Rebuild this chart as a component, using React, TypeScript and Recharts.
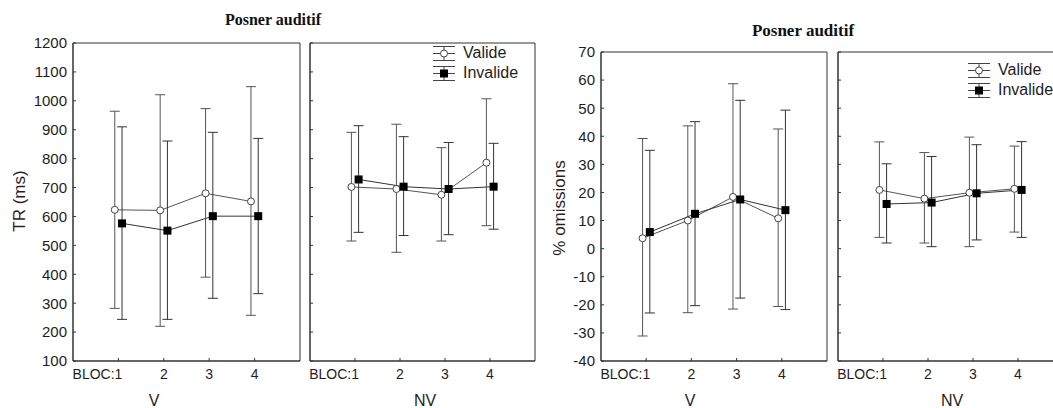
import React from 'react';
import { LineChart, Line, XAxis, YAxis, ErrorBar, Legend, Label, ReferenceArea } from 'recharts';

// ---------- categories / labels ----------
const blocs = [1, 2, 3, 4];
const blocLabels = ['BLOC:1', '2', '3', '4'];
const seriesNames = ['Valide', 'Invalide'];
const chartTitle = 'Posner auditif';
const trTicks = [100, 200, 300, 400, 500, 600, 700, 800, 900, 1000, 1100, 1200];
const omTicks = [-40, -30, -20, -10, 0, 10, 20, 30, 40, 50, 60, 70];

// ---------- TR (ms) ----------
const trValideV = [623, 621, 680, 652];
const trValideVLow = [282, 220, 390, 258];
const trValideVHigh = [964, 1021, 973, 1049];
const trInvalideV = [576, 551, 601, 601];
const trInvalideVLow = [244, 244, 317, 333];
const trInvalideVHigh = [910, 861, 891, 870];
const trValideNV = [702, 695, 675, 786];
const trValideNVLow = [515, 476, 515, 568];
const trValideNVHigh = [891, 919, 838, 1007];
const trInvalideNV = [728, 703, 695, 703];
const trInvalideNVLow = [545, 534, 537, 556];
const trInvalideNVHigh = [914, 876, 856, 853];

// ---------- % omissions ----------
const omValideV = [3.7, 10, 18.4, 10.8];
const omValideVLow = [-31.1, -22.8, -21.5, -20.6];
const omValideVHigh = [39.2, 43.7, 58.7, 42.6];
const omInvalideV = [5.9, 12.4, 17.5, 13.7];
const omInvalideVLow = [-22.9, -20.3, -17.6, -21.7];
const omInvalideVHigh = [35, 45.2, 52.8, 49.3];
const omValideNV = [20.9, 17.8, 19.9, 21.3];
const omValideNVLow = [4, 2, 0.7, 5.9];
const omValideNVHigh = [38, 34.2, 39.7, 36.5];
const omInvalideNV = [15.9, 16.4, 19.7, 20.9];
const omInvalideNVLow = [2, 0.7, 3.1, 4];
const omInvalideNVHigh = [30.2, 32.8, 37, 38.1];

const FONT = "'Liberation Sans', Arial, sans-serif";
const SERIF = "'Liberation Serif', 'Times New Roman', serif";
const AXIS = '#333';
const TEXT = '#1e1e1e';
const SHIFT = 0.08;

const build = (means: number[], lows: number[], highs: number[], shift: number) =>
  blocs.map((b, i) => ({
    x: b + shift,
    y: means[i],
    err: [means[i] - lows[i], highs[i] - means[i]],
  }));

const XTick = (props: any) => {
  const { x, y, payload } = props;
  const i = blocs.indexOf(payload.value);
  const first = i === 0;
  return (
    <text
      x={first ? x + 4 : x}
      y={y + 18}
      textAnchor={first ? 'end' : 'middle'}
      fontSize={14}
      fill={TEXT}
      fontFamily={FONT}
    >
      {blocLabels[i]}
    </text>
  );
};

const EmptyTick = () => <g />;

const OpenDot = (p: any) => (
  <circle key={`o${p.index}`} cx={p.cx} cy={p.cy} r={3.5} fill="#fff" stroke="#444" strokeWidth={1} />
);
const SquareDot = (p: any) => (
  <rect key={`s${p.index}`} x={p.cx - 4} y={p.cy - 4} width={8} height={8} fill="#000" />
);

const LegendContent = () => (
  <div style={{ fontFamily: FONT, fontSize: 16, color: TEXT }}>
    {seriesNames.map((name, i) => (
      <div key={name} style={{ display: 'flex', alignItems: 'center', height: 20 }}>
        <svg width={24} height={20} style={{ display: 'block' }}>
          <line x1={1} x2={23} y1={3.5} y2={3.5} stroke="#444" />
          <line x1={1} x2={23} y1={10.5} y2={10.5} stroke="#444" />
          <line x1={1} x2={23} y1={17.5} y2={17.5} stroke="#444" />
          <line x1={12} x2={12} y1={3.5} y2={17.5} stroke="#444" />
          {i === 0 ? (
            <circle cx={12} cy={10.5} r={3.5} fill="#fff" stroke="#444" />
          ) : (
            <rect x={8} y={6.5} width={8} height={8} fill="#000" />
          )}
        </svg>
        <span style={{ marginLeft: 7, lineHeight: '20px' }}>{name}</span>
      </div>
    ))}
  </div>
);

type PanelProps = {
  left: number;
  width: number;
  top: number;
  yAxisWidth: number;
  domain: [number, number];
  ticks: number[];
  showYLabels: boolean;
  valide: any[];
  invalide: any[];
  yTitle?: { text: string; x: number; y: number };
  xTitle: { text: string; x: number };
  legend?: { left: number; top: number };
};

const Panel = (p: PanelProps) => (
  <div style={{ position: 'absolute', left: p.left, top: 0 }}>
    <LineChart
      width={p.width}
      height={408}
      margin={{ top: p.top, right: 10, bottom: 0, left: 0 }}
      style={{ fontFamily: FONT }}
    >
      <XAxis
        dataKey="x"
        type="number"
        domain={[0, 5]}
        ticks={blocs}
        allowDataOverflow
        height={47}
        tickSize={-3}
        tickMargin={3}
        tick={<XTick />}
        axisLine={{ stroke: AXIS }}
        tickLine={{ stroke: AXIS }}
      >
        <Label
          content={() => (
            <text x={p.xTitle.x} y={406} textAnchor="middle" fontSize={16} fill={TEXT} fontFamily={FONT}>
              {p.xTitle.text}
            </text>
          )}
        />
      </XAxis>
      <YAxis
        type="number"
        domain={p.domain}
        ticks={p.ticks}
        allowDataOverflow
        width={p.yAxisWidth}
        tickSize={-3}
        tickMargin={9}
        tick={p.showYLabels ? { fontSize: 15, fill: TEXT, fontFamily: FONT } : <EmptyTick />}
        axisLine={{ stroke: AXIS }}
        tickLine={{ stroke: AXIS }}
        interval={0}
      >
        {p.yTitle ? (
          <Label
            content={() => (
              <text
                x={p.yTitle!.x}
                y={p.yTitle!.y}
                transform={`rotate(-90, ${p.yTitle!.x}, ${p.yTitle!.y})`}
                textAnchor="middle"
                fontSize={17}
                fill="#2a1f1f"
                fontFamily={FONT}
              >
                {p.yTitle!.text}
              </text>
            )}
          />
        ) : null}
      </YAxis>
      <ReferenceArea
        x1={0}
        x2={5}
        y1={p.domain[0]}
        y2={p.domain[1]}
        fill="none"
        fillOpacity={0}
        stroke={AXIS}
        strokeWidth={1}
        ifOverflow="visible"
      />
      {p.legend ? (
        <Legend
          layout="vertical"
          align="center"
          verticalAlign="middle"
          content={<LegendContent />}
          wrapperStyle={{ position: 'absolute', left: p.legend.left, top: p.legend.top, width: 'auto', height: 'auto' }}
        />
      ) : null}
      <Line
        name={seriesNames[0]}
        data={p.valide}
        dataKey="y"
        stroke="#555"
        strokeWidth={1}
        dot={OpenDot}
        activeDot={false}
        isAnimationActive={false}
      >
        <ErrorBar dataKey="err" direction="y" width={5} stroke="#555" strokeWidth={1} isAnimationActive={false} />
      </Line>
      <Line
        name={seriesNames[1]}
        data={p.invalide}
        dataKey="y"
        stroke="#333"
        strokeWidth={1}
        dot={SquareDot}
        activeDot={false}
        isAnimationActive={false}
      >
        <ErrorBar dataKey="err" direction="y" width={5} stroke="#333" strokeWidth={1} isAnimationActive={false} />
      </Line>
    </LineChart>
  </div>
);

export default function App() {
  return (
    <div
      style={{
        position: 'absolute',
        left: 0,
        top: 0,
        width: 1053,
        height: 408,
        overflow: 'hidden',
        background: '#fff',
        fontFamily: FONT,
      }}
    >
      <div
        style={{
          position: 'absolute',
          left: 173,
          width: 200,
          top: 11,
          textAlign: 'center',
          fontFamily: SERIF,
          fontWeight: 'bold',
          fontSize: 16,
          color: '#111',
          lineHeight: '18px',
        }}
      >
        {chartTitle}
      </div>
      <div
        style={{
          position: 'absolute',
          left: 703,
          width: 200,
          top: 22,
          textAlign: 'center',
          fontFamily: SERIF,
          fontWeight: 'bold',
          fontSize: 17,
          color: '#111',
          lineHeight: '18px',
        }}
      >
        {chartTitle}
      </div>
      <Panel
        left={0}
        width={310}
        top={43}
        yAxisWidth={73}
        domain={[100, 1200]}
        ticks={trTicks}
        showYLabels
        valide={build(trValideV, trValideVLow, trValideVHigh, -SHIFT)}
        invalide={build(trInvalideV, trInvalideVLow, trInvalideVHigh, SHIFT)}
        yTitle={{ text: 'TR (ms)', x: 25, y: 201 }}
        xTitle={{ text: 'V', x: 154 }}
      />
      <Panel
        left={300}
        width={245}
        top={43}
        yAxisWidth={10}
        domain={[100, 1200]}
        ticks={trTicks}
        showYLabels={false}
        valide={build(trValideNV, trValideNVLow, trValideNVHigh, -SHIFT)}
        invalide={build(trInvalideNV, trInvalideNVLow, trInvalideNVHigh, SHIFT)}
        xTitle={{ text: 'NV', x: 125 }}
        legend={{ left: 132, top: 43 }}
      />
      <Panel
        left={530}
        width={307}
        top={52}
        yAxisWidth={71}
        domain={[-40, 70]}
        ticks={omTicks}
        showYLabels
        valide={build(omValideV, omValideVLow, omValideVHigh, -SHIFT)}
        invalide={build(omInvalideV, omInvalideVLow, omInvalideVHigh, SHIFT)}
        yTitle={{ text: '% omissions', x: 35, y: 208 }}
        xTitle={{ text: 'V', x: 160 }}
      />
      <Panel
        left={828}
        width={245}
        top={52}
        yAxisWidth={10}
        domain={[-40, 70]}
        ticks={omTicks}
        showYLabels={false}
        valide={build(omValideNV, omValideNVLow, omValideNVHigh, -SHIFT)}
        invalide={build(omInvalideNV, omInvalideNVLow, omInvalideNVHigh, SHIFT)}
        xTitle={{ text: 'NV', x: 124 }}
        legend={{ left: 139, top: 60 }}
      />
    </div>
  );
}
